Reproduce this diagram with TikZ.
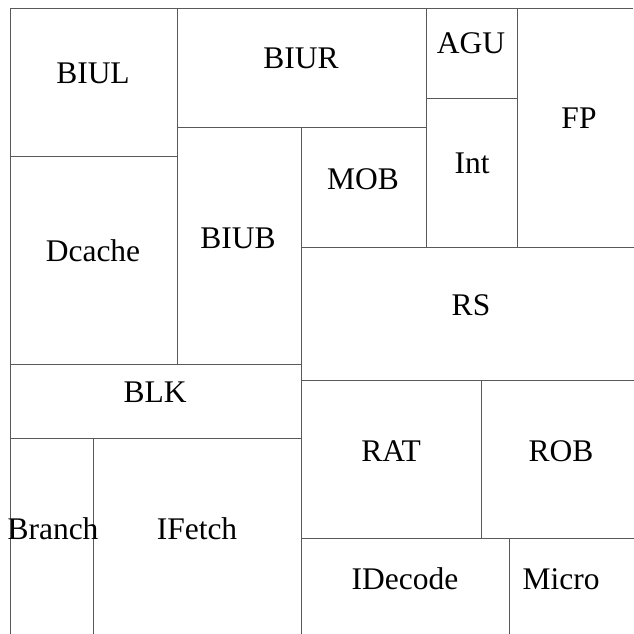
\documentclass[tikz,border=0pt]{standalone}
\usepackage{fontspec}
\setmainfont{Liberation Serif}
\begin{document}
\begin{tikzpicture}[x=1pt, y=-1pt, every node/.style={font=\fontsize{31.5}{31.5}\selectfont, inner sep=0pt, anchor=base},
  wall/.style={draw=black!65, line width=0.9pt}]
  \useasboundingbox (0,0) rectangle (634,634);
  % outline and block boundaries
  \draw[wall] (633,8) -- (10,8) -- (10,634);
  \draw[wall] (177,8) -- (177,364);
  \draw[wall] (10,156) -- (177,156);
  \draw[wall] (177,127) -- (426,127);
  \draw[wall] (426,8) -- (426,247);
  \draw[wall] (517,8) -- (517,247);
  \draw[wall] (426,98) -- (517,98);
  \draw[wall] (301,127) -- (301,634);
  \draw[wall] (301,247) -- (634,247);
  \draw[wall] (10,364) -- (301,364);
  \draw[wall] (301,380) -- (634,380);
  \draw[wall] (10,438) -- (301,438);
  \draw[wall] (93,438) -- (93,634);
  \draw[wall] (481,380) -- (481,538);
  \draw[wall] (301,538) -- (634,538);
  \draw[wall] (509,538) -- (509,634);
  % block labels
  \foreach \x/\y/\name in {93/83/BIUL, 301/68/BIUR, 471/54/AGU, 579/128/FP,
      472/173/Int, 363/189/MOB, 238/248/BIUB, 93/261/Dcache, 471/315/RS,
      155/402/BLK, 391/461/RAT, 561/461/ROB, 53/539/Branch, 197/539/IFetch,
      405/589/IDecode, 561/589/Micro} {
    \node (\name) at (\x,\y) {\name};
  }
\end{tikzpicture}
\end{document}
